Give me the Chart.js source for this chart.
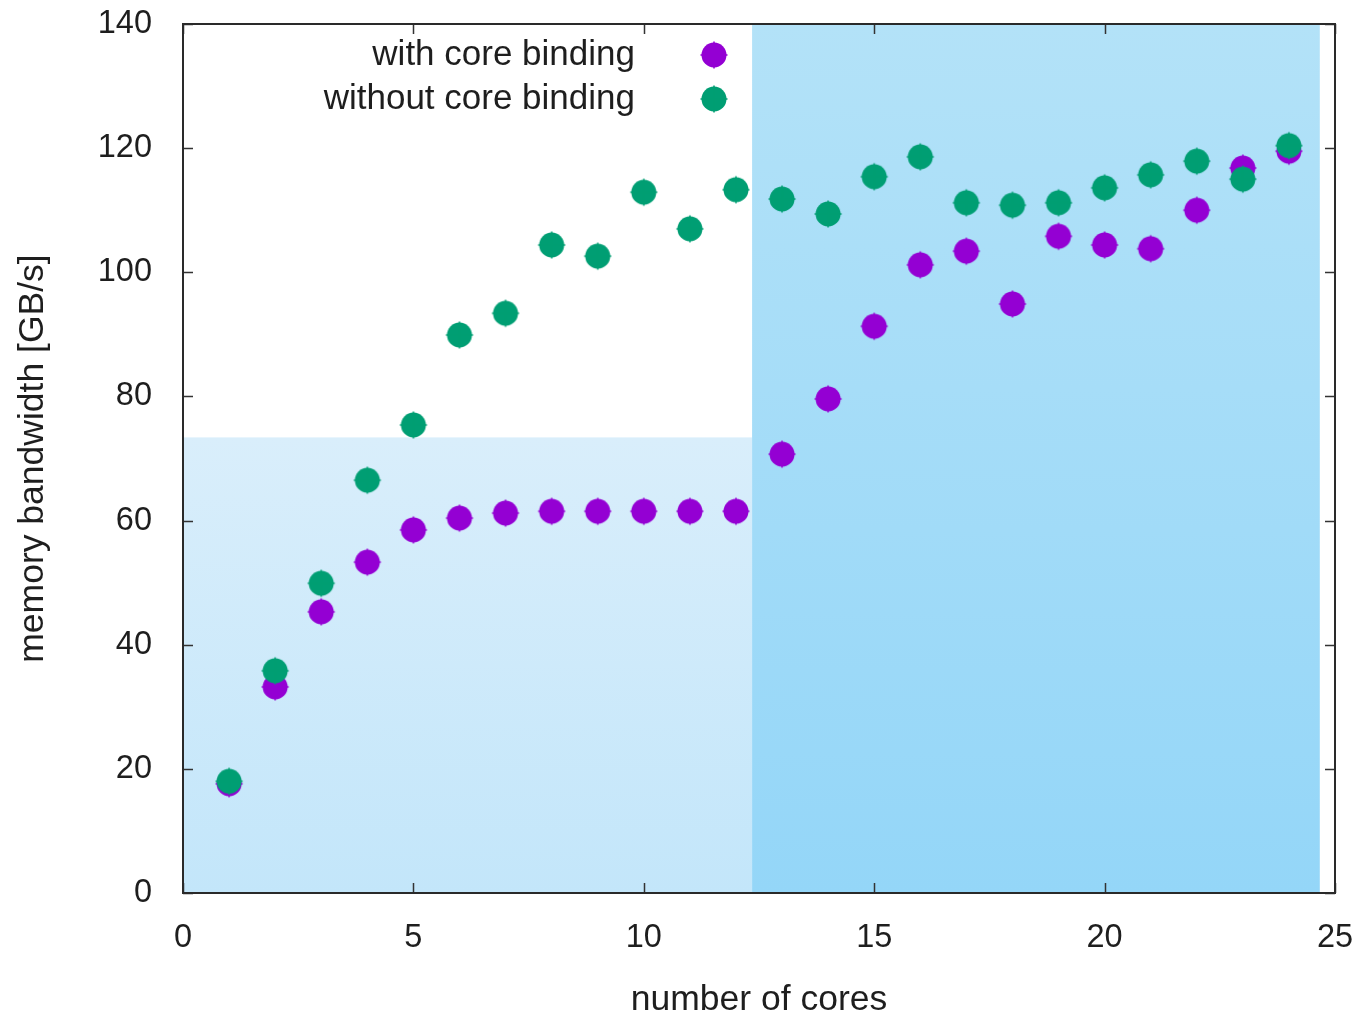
<!DOCTYPE html>
<html>
<head>
<meta charset="utf-8">
<script src="https://cdn.jsdelivr.net/npm/chart.js@4"></script>
<style>
  html, body { margin: 0; padding: 0; background: #ffffff; }
  #wrap { width: 1359px; height: 1019px; }
</style>
</head>
<body>
<div id="wrap"><canvas id="c" width="1359" height="1019"></canvas></div>
<script>
// ---- data ----
const cores = [1,2,3,4,5,6,7,8,9,10,11,12,13,14,15,16,17,18,19,20,21,22,23,24];
const withBinding = [17.6,33.2,45.3,53.3,58.5,60.4,61.2,61.5,61.5,61.5,61.5,61.5,70.7,79.6,91.3,101.2,103.4,94.9,105.8,104.4,103.8,110.0,116.8,119.5];
const withoutBinding = [18.0,35.8,49.9,66.5,75.4,89.9,93.4,104.4,102.6,112.9,107.0,113.3,111.8,109.4,115.4,118.6,111.2,110.8,111.2,113.6,115.7,117.9,115.0,120.4];
const seriesLabels = ['with core binding', 'without core binding'];
const xTicks = [0, 5, 10, 15, 20, 25];
const yTicks = [0, 20, 40, 60, 80, 100, 120, 140];
// shaded regions: [xStart, xEnd], [yStart, yEnd]
const regionX = [[0, 12.35], [12.35, 24.67]];
const regionY = [[0, 73.4], [0, 140]];

const PURPLE = '#9400d3';
const GREEN = '#009e73';
const FONT = '"Liberation Sans", Arial, Helvetica, sans-serif';
const TEXT = '#1e1e1e';

function makeMarker(color) {
  const c = document.createElement('canvas');
  c.width = 30; c.height = 30;
  const g = c.getContext('2d');
  g.fillStyle = color;
  g.beginPath();
  g.arc(15, 15, 12.5, 0, Math.PI * 2);
  g.fill();
  g.fillRect(14.25, 1.5, 1.5, 27);
  g.fillRect(1.5, 14.25, 27, 1.5);
  return c;
}
const markerPurple = makeMarker(PURPLE);
const markerGreen = makeMarker(GREEN);

const bgPlugin = {
  id: 'bgRegions',
  beforeDatasetsDraw(chart) {
    const {ctx, scales: {x, y}} = chart;
    const grads = [
      ['#d9eefb', '#c3e6fa'],
      ['#b3e2f8', '#94d6f8']
    ];
    ctx.save();
    for (let i = 0; i < regionX.length; i++) {
      const x0 = x.getPixelForValue(regionX[i][0]);
      const x1 = x.getPixelForValue(regionX[i][1]);
      const y0 = y.getPixelForValue(regionY[i][1]);
      const y1 = y.getPixelForValue(regionY[i][0]);
      const gr = ctx.createLinearGradient(0, y0, 0, y1);
      gr.addColorStop(0, grads[i][0]);
      gr.addColorStop(1, grads[i][1]);
      ctx.fillStyle = gr;
      ctx.fillRect(x0, y0, x1 - x0, y1 - y0);
    }
    // frame and inward ticks (mirrored)
    const a = chart.chartArea;
    ctx.strokeStyle = '#333333';
    ctx.lineWidth = 1.5;
    const tl = 10;
    ctx.beginPath();
    xTicks.forEach(v => {
      const px = Math.round(x.getPixelForValue(v)) + 0.5;
      ctx.moveTo(px, a.bottom); ctx.lineTo(px, a.bottom - tl);
      ctx.moveTo(px, a.top); ctx.lineTo(px, a.top + tl);
    });
    yTicks.forEach(v => {
      const py = Math.round(y.getPixelForValue(v)) + 0.5;
      ctx.moveTo(a.left, py); ctx.lineTo(a.left + tl, py);
      ctx.moveTo(a.right, py); ctx.lineTo(a.right - tl, py);
    });
    ctx.stroke();
    ctx.lineWidth = 2;
    ctx.strokeStyle = '#2a2a2a';
    ctx.strokeRect(a.left, a.top, a.right - a.left, a.bottom - a.top);
    ctx.restore();
  },
  afterDatasetsDraw(chart) {
    const {ctx} = chart;
    ctx.save();
    ctx.font = '35px ' + FONT;
    ctx.fillStyle = TEXT;
    ctx.textAlign = 'right';
    ctx.textBaseline = 'middle';
    const rows = [[seriesLabels[0], markerPurple, 55], [seriesLabels[1], markerGreen, 99]];
    rows.forEach(r => {
      ctx.fillText(r[0], 635, r[2]);
      ctx.drawImage(r[1], 714 - 15, r[2] - 15);
    });
    ctx.restore();
  }
};

new Chart(document.getElementById('c'), {
  type: 'scatter',
  data: {
    datasets: [
      {
        label: seriesLabels[0],
        data: cores.map((c, i) => ({x: c, y: withBinding[i]})),
        pointStyle: markerPurple,
        backgroundColor: PURPLE,
        borderColor: PURPLE,
        order: 1
      },
      {
        label: seriesLabels[1],
        data: cores.map((c, i) => ({x: c, y: withoutBinding[i]})),
        pointStyle: markerGreen,
        backgroundColor: GREEN,
        borderColor: GREEN,
        order: 0
      }
    ]
  },
  options: {
    responsive: false,
    animation: false,
    devicePixelRatio: 1,
    layout: { padding: { top: 24, right: 24, left: 0, bottom: 0 } },
    plugins: { legend: { display: false }, tooltip: { enabled: false } },
    scales: {
      x: {
        type: 'linear',
        min: 0, max: 25,
        grid: { display: false },
        border: { display: false },
        afterBuildTicks(s) { s.ticks = xTicks.map(v => ({value: v})); },
        ticks: { color: TEXT, font: { family: FONT, size: 32.5 }, padding: 18, maxRotation: 0 },
        title: { display: true, text: 'number of cores', color: TEXT, font: { family: FONT, size: 35.5, lineHeight: 1 }, padding: { top: 0, bottom: 1 } },
        afterFit(s) { s.height = 1019 - 893; s.paddingLeft = 0; s.paddingRight = 0; }
      },
      y: {
        type: 'linear',
        min: 0, max: 140,
        grid: { display: false },
        border: { display: false },
        afterBuildTicks(s) { s.ticks = yTicks.map(v => ({value: v})); },
        ticks: { color: TEXT, font: { family: FONT, size: 32.5 }, padding: 23 },
        title: { display: true, text: 'memory bandwidth [GB/s]', color: TEXT, font: { family: FONT, size: 35.5, lineHeight: 1 }, padding: { top: 15, bottom: 0 } },
        afterFit(s) { s.width = 183; s.paddingTop = 0; s.paddingBottom = 0; }
      }
    }
  },
  plugins: [bgPlugin]
});
</script>
</body>
</html>
